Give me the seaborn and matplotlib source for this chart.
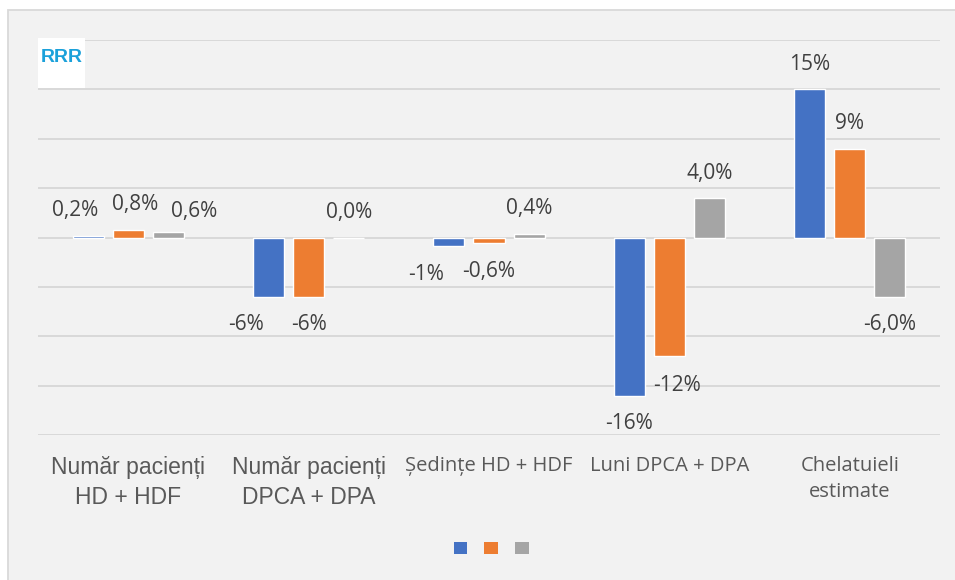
import matplotlib
matplotlib.use("Agg")
import matplotlib.pyplot as plt
import seaborn as sns
import pandas as pd
from matplotlib.patches import Rectangle, Patch

# ---------------- data ----------------
categories = ["Număr pacienți\nHD + HDF", "Număr pacienți\nDPCA + DPA",
              "Ședințe HD + HDF", "Luni DPCA + DPA", "Chelatuieli\nestimate"]
series_names = ["Seria 1", "Seria 2", "Seria 3"]
values_s1 = [0.2, -6.0, -0.9, -16.0, 15.0]
values_s2 = [0.8, -6.0, -0.6, -12.0, 9.0]
values_s3 = [0.6, 0.0, 0.4, 4.0, -6.0]
labels_s1 = ["0,2%", "-6%", "-1%", "-16%", "15%"]
labels_s2 = ["0,8%", "-6%", "-0,6%", "-12%", "9%"]
labels_s3 = ["0,6%", "0,0%", "0,4%", "4,0%", "-6,0%"]
y_ticks = [-20, -15, -10, -5, 0, 5, 10, 15, 20]

# ---------------- style ----------------
colors = ["#4472C4", "#ED7D31", "#A5A5A5"]
label_nudge_px = [[-13, -22, -23, 0, 0],
                  [7, 0, 0, 8, 0],
                  [26, 0, 0, 0, 0]]
label_nudge_py = [[0, 0, 0, 0, 0],
                  [0, 0, 0, -2, 0],
                  [-5, 0, 0, 0, 0]]
tick_fonts = [("Liberation Sans", 16.5), ("Liberation Sans", 16.5),
              ("Open Sans", 14.5), ("Open Sans", 14.5), ("Open Sans", 14.5)]

sns.set_theme(style="white")
plt.rcParams["font.family"] = ["Liberation Sans", "DejaVu Sans"]

W, H = 955, 580
fig = plt.figure(figsize=(W / 100, H / 100), dpi=100)
fig.patch.set_facecolor("white")
fig.patches.append(Rectangle((8 / W, -0.05), 1.2, 1 - 10 / H + 0.05,
                             transform=fig.transFigure, facecolor="#F2F2F2",
                             edgecolor="#D9D9D9", lw=1.3, zorder=-10))

ax = fig.add_axes([38 / W, 145 / H, 902 / W, 395 / H])
ax.set_facecolor("none")

df = pd.DataFrame({
    "cat": categories * 3,
    "val": values_s1 + values_s2 + values_s3,
    "series": [s for s in series_names for _ in categories],
})
sns.barplot(data=df, x="cat", y="val", hue="series", order=categories,
            hue_order=series_names, palette=colors, saturation=1,
            width=0.667, gap=0.225, legend=False, ax=ax, zorder=3)

ax.set_ylim(-20, 20)
ax.set_yticks(y_ticks)
ax.set_yticklabels([])
ax.tick_params(axis="y", length=0)
ax.grid(axis="y", color="#D9D9D9", lw=1.4, zorder=0)
ax.grid(axis="x", visible=False)
for s in ax.spines.values():
    s.set_visible(False)
ax.set_xlabel("")
ax.set_ylabel("")
ax.set_xticks(range(len(categories)))
ax.set_xticklabels(categories, color="#595959", linespacing=1.38)
for lbl, (fam, fs) in zip(ax.get_xticklabels(), tick_fonts):
    lbl.set_fontfamily([fam, "DejaVu Sans"])
    lbl.set_fontsize(fs)
ax.tick_params(axis="x", length=0, pad=15)

all_labels = [labels_s1, labels_s2, labels_s3]
all_values = [values_s1, values_s2, values_s3]
for k, cont in enumerate(ax.containers):
    for j, bar in enumerate(cont):
        v = all_values[k][j]
        x = bar.get_x() + bar.get_width() / 2
        off = 18 if v >= 0 else -20
        ax.annotate(all_labels[k][j], xy=(x, v),
                    xytext=(label_nudge_px[k][j] * 0.72,
                            off + label_nudge_py[k][j] * 0.72),
                    textcoords="offset points", ha="center", va="center",
                    fontsize=15, color="#404040",
                    family=["Open Sans", "DejaVu Sans"], zorder=5)

# legend (markers only, no labels in the reference)
handles = [Patch(facecolor=c, edgecolor="none") for c in colors]
fig.legend(handles=handles, labels=["", "", ""], loc="center",
           bbox_to_anchor=(491 / W, 1 - 549 / H), ncol=3, frameon=False,
           handlelength=1.0, handleheight=1.0, handletextpad=0.0,
           columnspacing=1.2, fontsize=10)

# logo approximation
fig.patches.append(Rectangle((38 / W, 1 - 88 / H), 47 / W, 50 / H,
                             transform=fig.transFigure, facecolor="white",
                             edgecolor="none", zorder=4))
fig.text(61.5 / W, 1 - 58 / H, "RRR", ha="center", va="center", fontsize=14,
         fontweight="bold", color="#1BA1DA", zorder=6)

fig.savefig("out.png", dpi=100)
